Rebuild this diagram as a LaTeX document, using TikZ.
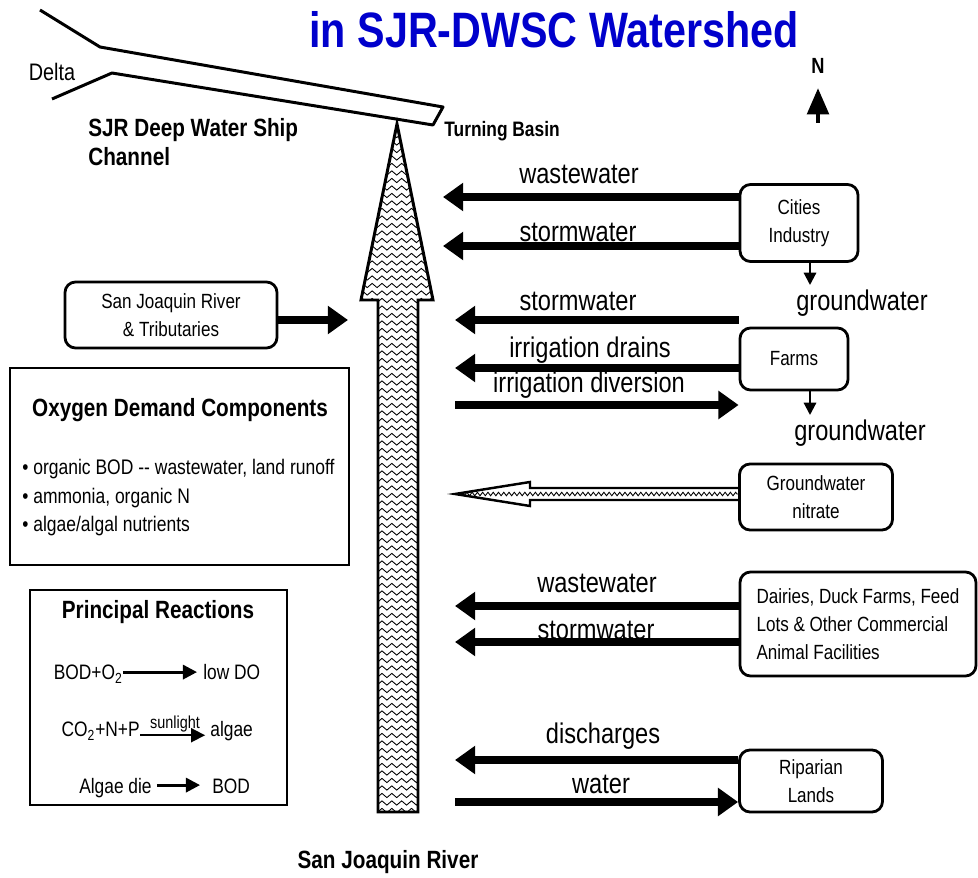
\documentclass[tikz,border=0pt]{standalone}
\usepackage{fontspec}
\setmainfont{Liberation Sans}[FakeStretch=0.83]
\usetikzlibrary{arrows.meta,positioning,calc,decorations.pathmorphing}
\definecolor{titleblue}{HTML}{0000CC}
\newcommand{\px}{0.02cm}
\newcommand{\flowfont}{\fontsize{16.2pt}{18pt}\selectfont}
\newcommand{\boxfont}{\fontsize{11.7pt}{15.9pt}\selectfont}
\newcommand{\headfont}{\fontsize{14.2pt}{16.4pt}\selectfont\bfseries}
\newcommand{\itemfont}{\fontsize{12pt}{16.2pt}\selectfont}

\begin{document}
\begin{tikzpicture}[x=\px,y=-\px,
  flow/.style={line width=4.5pt,-{Triangle[length=11.5pt,width=15.5pt]}},
  drop/.style={line width=1.2pt,-{Triangle[length=7pt,width=7pt]}},
  rxn/.style={line width=1.7pt,-{Triangle[length=8pt,width=8pt]}},
  lbl/.style={font=\flowfont,inner sep=0pt},
  srcbox/.style={draw,line width=1.6pt,rounded corners=6pt,font=\boxfont,align=center,inner sep=0pt},
  rtext/.style={font=\fontsize{11.9pt}{14pt}\selectfont,inner sep=0pt}]
\useasboundingbox (0,0) rectangle (978,878);

% title and north mark
\node[font=\fontsize{28.3pt}{30pt}\selectfont\bfseries,text=titleblue,inner sep=0pt] (title) at (554,30) {in SJR-DWSC Watershed};
\node[font=\fontsize{12.5pt}{14pt}\selectfont\bfseries,inner sep=0pt] (north) at (818,66) {N};
\coordinate (ntail) at (818,123);
\draw[line width=2.8pt,-{Triangle[length=15pt,width=12pt]},shorten >=8pt] (ntail) -- (north.south);

% ship channel
\draw[line width=1.7pt,line join=round] (40,10) -- (100,47) -- (443,107) -- (433,125) -- (112,73) -- (52,99);
\node[font=\fontsize{13.6pt}{15pt}\selectfont,inner sep=0pt] (delta) at (52,72) {Delta};
\node[font=\headfont,align=left,anchor=west,inner sep=0pt] (dwsc) at (88,142) {SJR Deep Water Ship\\Channel};
\node[font=\fontsize{11.9pt}{14pt}\selectfont\bfseries,anchor=west,inner sep=0pt] (turning) at (444,131) {Turning Basin};

% main river arrow
\begin{scope}
\clip (397,124) -- (433,300) -- (418,300) -- (418,812) -- (378,812) -- (378,300) -- (361,300) -- cycle;
\foreach \y in {128,135.5,...,812}
  \draw[line width=0.5pt,decorate,decoration={zigzag,segment length=5.6pt,amplitude=1.2pt}] (350,\y) -- (445,\y);
\end{scope}
\draw[line width=1.7pt] (397,124) -- (433,300) -- (418,300) -- (418,812) -- (378,812) -- (378,300) -- (361,300) -- cycle;
\node[font=\headfont,inner sep=0pt] (river) at (388,862) {San Joaquin River};

% cities
\node[srcbox,minimum width=118*\px,minimum height=77*\px] (cities) at (799,223) {Cities\\Industry};
\coordinate (ww1) at (443,197);
\coordinate (sw1) at (443,246);
\coordinate (gw1) at (810,285);
\draw[flow] (cities.west |- ww1) -- (ww1);
\draw[flow] (cities.west |- sw1) -- (sw1);
\draw[drop] (cities.south -| gw1) -- (gw1);
\node[lbl] (lww1) at (579,174) {wastewater};
\node[lbl] (lsw1) at (578,232) {stormwater};
\node[lbl] (lgw1) at (862,303) {groundwater};

% farms
\node[srcbox,minimum width=108*\px,minimum height=62*\px] (farms) at (794,359) {Farms};
\coordinate (sw2) at (455,320);
\coordinate (drn) at (455,368);
\coordinate (div) at (455,405);
\coordinate (gw2) at (810,415);
\draw[flow] (farms.west |- sw2) -- (sw2);
\draw[flow] (farms.west |- drn) -- (drn);
\draw[flow] (div) -- (farms.west |- div);
\draw[drop] (farms.south -| gw2) -- (gw2);
\node[lbl] (lsw2) at (578,301) {stormwater};
\node[lbl] (ldrn) at (590,350) {irrigation drains};
\node[lbl] (ldiv) at (589,385) {irrigation diversion};
\node[lbl] (lgw2) at (860,433) {groundwater};

% groundwater nitrate
\node[srcbox,minimum width=153*\px,minimum height=66*\px] (nitrate) at (816,497) {Groundwater\\nitrate};
\coordinate (nitip) at (455,494);
\coordinate (nbase) at (530,494);
\begin{scope}
\clip ($(nitrate.west |- nitip)+(0,-6)$) -- ($(nbase)+(0,-6)$) -- ($(nbase)+(0,-12)$) -- (nitip) -- ($(nbase)+(0,12)$) -- ($(nbase)+(0,6)$) -- ($(nitrate.west |- nitip)+(0,6)$) -- cycle;
\draw[line width=0.5pt,decorate,decoration={zigzag,segment length=3pt,amplitude=1pt}] (nitip) -- (nitrate.west |- nitip);
\end{scope}
\draw[line width=1.4pt] ($(nitrate.west |- nitip)+(0,-6)$) -- ($(nbase)+(0,-6)$) -- ($(nbase)+(0,-12)$) -- (nitip) -- ($(nbase)+(0,12)$) -- ($(nbase)+(0,6)$) -- ($(nitrate.west |- nitip)+(0,6)$);

% animal facilities
\node[srcbox,align=left,minimum width=236*\px,minimum height=104*\px] (dairies) at (858,624) {Dairies, Duck Farms, Feed\\Lots \& Other Commercial\\Animal Facilities};
\coordinate (ww3) at (455,606);
\coordinate (sw3) at (455,642);
\node[lbl] (lww3) at (597,583) {wastewater};
\node[lbl] (lsw3) at (596,630) {stormwater};
\draw[flow] (dairies.west |- ww3) -- (ww3);
\draw[flow] (dairies.west |- sw3) -- (sw3);

% riparian lands
\node[srcbox,minimum width=143*\px,minimum height=62*\px] (riparian) at (811,781) {Riparian\\Lands};
\coordinate (dis) at (455,760);
\coordinate (wat) at (455,802);
\draw[flow] (riparian.west |- dis) -- (dis);
\draw[flow] (wat) -- (riparian.west |- wat);
\node[lbl] (ldis) at (603,736) {discharges};
\node[lbl] (lwat) at (601,784) {water};

% tributaries
\node[srcbox,minimum width=212*\px,minimum height=66*\px] (sjr) at (171,315) {San Joaquin River\\\& Tributaries};
\coordinate (sjrtip) at (348,320);
\draw[flow] (sjr.east |- sjrtip) -- (sjrtip);

% oxygen demand components
\draw[line width=1.6pt] (10,368) rectangle (349,565);
\node[font=\headfont,inner sep=0pt] (odc) at (180,410) {Oxygen Demand Components};
\node[font=\itemfont,align=left,anchor=west,inner sep=0pt] (odcitems) at (22,498) {• organic BOD -{}- wastewater, land runoff\\• ammonia, organic N\\• algae/algal nutrients};

% principal reactions
\draw[line width=1.6pt] (30,590) rectangle (287,805);
\node[font=\headfont,inner sep=0pt] (prhead) at (158,612) {Principal Reactions};
\node[rtext,anchor=base east] (r1a) at (123,680) {BOD+O\textsubscript{2}};
\node[rtext,anchor=base west] (r1b) at (203,680) {low DO};
\draw[rxn,shorten >=3.4pt] ([yshift=4.5pt]r1a.base east) -- ([yshift=4.5pt]r1b.base west);
\node[rtext,anchor=base east] (r2a) at (140,737) {CO\textsubscript{2}+N+P};
\node[rtext,anchor=base west] (r2b) at (210,737) {algae};
\draw[rxn,line width=1pt,shorten >=2.8pt] ([yshift=1pt]r2a.base east) -- node[above=1pt,font=\fontsize{9.9pt}{11pt}\selectfont,inner sep=0pt] (sun) {sunlight} ([yshift=1pt]r2b.base west);
\node[rtext,anchor=base east] (r3a) at (152,793) {Algae die};
\node[rtext,anchor=base west] (r3b) at (212,793) {BOD};
\draw[rxn,shorten <=2.8pt,shorten >=6.8pt] ([yshift=4.5pt]r3a.base east) -- ([yshift=4.5pt]r3b.base west);
\end{tikzpicture}
\end{document}
